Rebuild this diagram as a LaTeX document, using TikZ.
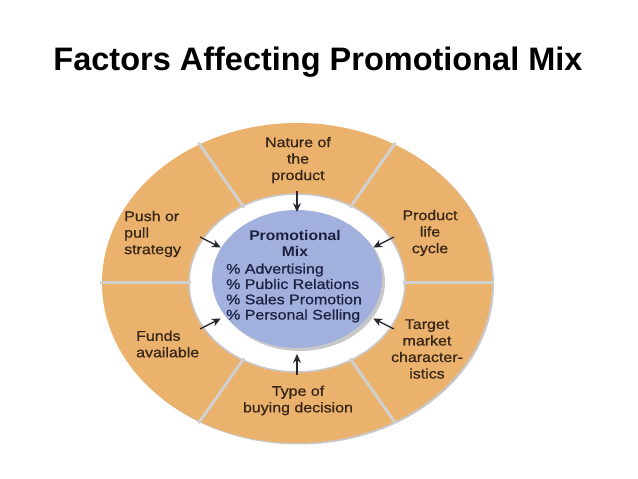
\documentclass[tikz,border=0pt]{standalone}
\usepackage{fontspec}
\setmainfont{Liberation Sans}
\newfontfamily\labfont[FakeStretch=1.14,FakeBold=0.7]{Liberation Sans}
\newfontfamily\labfontb[FakeStretch=1.12]{Liberation Sans Bold}
\usetikzlibrary{arrows.meta,shapes.geometric}
\definecolor{ringorange}{RGB}{234,178,108}
\definecolor{mixblue}{RGB}{162,176,222}
\definecolor{shadowgrey}{RGB}{200,200,200}
\definecolor{divgrey}{RGB}{208,208,208}
\definecolor{textbrown}{RGB}{55,38,24}
\definecolor{navy}{RGB}{28,33,66}
\definecolor{arrowcol}{RGB}{40,40,50}
\begin{document}
\begin{tikzpicture}[x=1pt,y=1pt,
  titlestyle/.style={font=\fontsize{32.5}{36}\selectfont\bfseries, text=black, inner sep=0pt},
  seglabel/.style={font=\labfont\fontsize{14}{16.5}\selectfont, text=textbrown, align=center, inner sep=0pt},
  seglabelleft/.style={seglabel, align=left, anchor=west},
  mixhead/.style={font=\labfontb\fontsize{14}{15.3}\selectfont, text=navy, align=center, inner sep=0pt},
  mixlist/.style={font=\labfont\fontsize{14}{15.3}\selectfont, text=navy, align=left, anchor=west, inner sep=0pt},
  divider/.style={draw=divgrey, line width=3pt},
  flow/.style={draw=arrowcol, line width=1.3pt, -{Stealth[length=9pt,width=8pt,inset=3pt]}},
  mixdisc/.style={ellipse, fill=mixblue, minimum width=170pt, minimum height=138pt, inner sep=0pt}
]
\useasboundingbox (0,0) rectangle (638,479);
\fill[white] (0,0) rectangle (638,479);
\node[titlestyle] (title) at (318,417) {Factors Affecting Promotional Mix};
\begin{scope}[shift={(297,196)}]
  \fill[shadowgrey] (2,-1.5) ellipse [x radius=195, y radius=160];
  \fill[ringorange] (0,0) ellipse [x radius=195, y radius=160];
  \fill[white] (0,0) ellipse [x radius=108, y radius=89];
  \draw[shadowgrey, line width=1.6pt] (0,0) ellipse [x radius=108, y radius=89];
  \foreach \a in {0,60,...,300} {
    \draw[divider] (\a:106 and 87) -- (\a:197 and 162);
  }
\end{scope}
\fill[shadowgrey] (300,197) ellipse [x radius=85, y radius=69];
\node[mixdisc] (mix) at (297,200) {};
\begin{scope}[shift={(297,196)}]
  \foreach \a in {30,90,...,330} {
    \coordinate (s\a) at (\a:112 and 92);
    \coordinate (e\a) at (\a:88 and 71);
    \draw[flow] (s\a) -- (e\a);
  }
\end{scope}
\node[seglabel] (nature) at (298,319) {Nature of\\the\\product};
\node[seglabelleft] (push) at (124,245) {Push or\\pull\\strategy};
\node[seglabel] (plc) at (430,246) {Product\\life\\cycle};
\node[seglabelleft] (funds) at (136,135) {Funds\\available};
\node[seglabel] (target) at (427,130) {Target\\market\\character-\\istics};
\node[seglabel] (type) at (298,78.5) {Type of\\buying decision};
\node[mixhead] (mixtitle) at (295,235.5) {Promotional\\Mix};
\node[mixlist] (list) at (226,186) {\% Advertising\\\% Public Relations\\\% Sales Promotion\\\% Personal Selling};
\end{tikzpicture}
\end{document}
